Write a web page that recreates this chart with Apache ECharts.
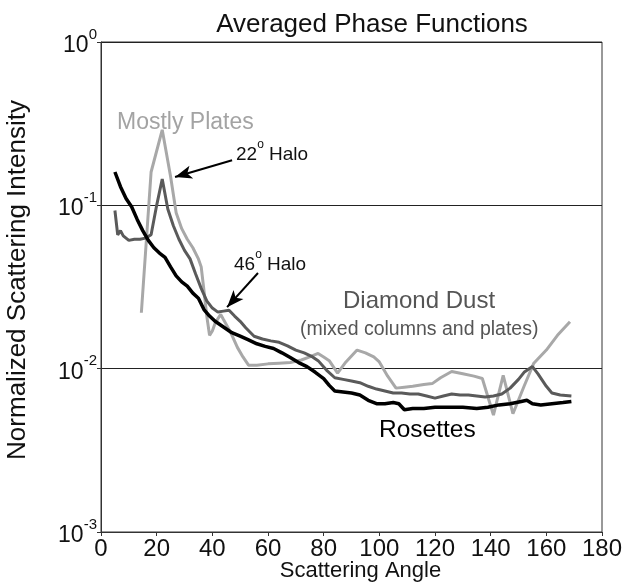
<!DOCTYPE html>
<html>
<head>
<meta charset="utf-8">
<script src="https://cdn.jsdelivr.net/npm/echarts@6/dist/echarts.min.js"></script>
<style>
html,body{margin:0;padding:0;background:#fff;}
#chart{width:622px;height:588px;}
</style>
</head>
<body>
<div id="chart"></div>
<script>
var titleText = 'Averaged Phase Functions';
var xTicks = [0, 20, 40, 60, 80, 100, 120, 140, 160, 180];
var yTicks = [0.001, 0.01, 0.1, 1];

var rosettesAngle = [5,7,9,11,13,15,17,19,21,23,25,27,29,31,33,35,37,39,41,44,47,50,53,56,59,62,65,68,71,74,77,80,82,84,87,90,93,96,99,102,105,107,109,112,116,120,125,130,135,139,143,147,151,153,155,158,162,166,169];
var rosettesValue = [0.16,0.13,0.11,0.098,0.082,0.07,0.061,0.055,0.051,0.048,0.042,0.037,0.034,0.032,0.029,0.027,0.023,0.021,0.0195,0.018,0.0166,0.0158,0.015,0.0142,0.0137,0.0133,0.0125,0.0117,0.0109,0.0103,0.0095,0.0087,0.0079,0.0073,0.0072,0.0071,0.0069,0.0064,0.0061,0.0061,0.0062,0.0061,0.0056,0.0057,0.0057,0.0058,0.0058,0.0058,0.0057,0.0058,0.006,0.0061,0.0063,0.0064,0.0061,0.006,0.0061,0.0062,0.0063];

var diamondAngle = [5,6,7,8,10,12,14,16,18,20,22,24,26,28,30,32,34,36,38,40,42,44,46,48,50,52,55,58,61,64,67,70,73,76,78,81,84,87,90,93,96,99,102,105,108,111,114,117,120,123,126,129,132,135,138,141,144,147,150,152,155,157,160,162,165,169];
var diamondValue = [0.093,0.066,0.07,0.065,0.061,0.062,0.062,0.063,0.066,0.1,0.145,0.095,0.075,0.062,0.053,0.047,0.038,0.031,0.026,0.0235,0.0222,0.0225,0.0228,0.021,0.0195,0.0178,0.0158,0.0152,0.0148,0.0145,0.0138,0.013,0.0125,0.0118,0.0112,0.0098,0.0088,0.0086,0.0084,0.0082,0.0078,0.0075,0.0073,0.0071,0.0071,0.007,0.007,0.0068,0.0066,0.0068,0.007,0.0069,0.0069,0.0068,0.0067,0.0068,0.007,0.0076,0.0086,0.0095,0.0103,0.0093,0.0078,0.0071,0.0069,0.0068];

var platesAngle = [14.5,18,22,25,27,29,31,33,35,36,37,38,39,40,41,43,44,46.5,49,51,53,56,60,64,68,72,75,78,80,82,85,88,92,95,98,100,103,106,109,112,116,119,122,126,130,134,137,141,144.5,148,152,155.5,160,164,168.5];
var platesValue = [0.022,0.16,0.29,0.15,0.09,0.072,0.062,0.055,0.047,0.042,0.03,0.021,0.016,0.017,0.019,0.0215,0.02,0.0168,0.0135,0.0118,0.0105,0.0105,0.0107,0.0108,0.0109,0.0113,0.0118,0.0124,0.0118,0.0112,0.0094,0.011,0.013,0.0125,0.0118,0.011,0.009,0.0076,0.0077,0.0078,0.008,0.0081,0.0088,0.0096,0.0093,0.009,0.0087,0.0052,0.0091,0.0053,0.0078,0.0108,0.013,0.016,0.0194];

var halo22Arrow = [[47.1, 0.189], [26.6, 0.149]];
var halo46Arrow = [[56.4, 0.0385], [45.3, 0.0238]];

function pairs(a, v) { return a.map(function (x, i) { return [x, v[i]]; }); }

var FONT = 'Liberation Sans, Arial, sans-serif';
var chart = echarts.init(document.getElementById('chart'), null, {renderer: 'canvas'});

var option = {
  animation: false,
  backgroundColor: '#fff',
  title: {
    text: titleText,
    left: 367, top: 7, textAlign: 'center',
    textStyle: {fontFamily: FONT, fontSize: 26, fontWeight: 'normal', color: '#111'}
  },
  grid: {left: 101, right: 20, top: 42, bottom: 56, containLabel: false, outerBoundsMode: 'none',
    show: true, borderColor: '#333', borderWidth: 1, backgroundColor: 'transparent'},
  xAxis: {
    type: 'value', min: 0, max: 180, interval: 20,
    name: 'Scattering Angle', nameLocation: 'middle', nameGap: 28, nameMoveOverlap: false,
    nameTextStyle: {fontFamily: FONT, fontSize: 22, color: '#111', padding: [0, 0, 0, 18]},
    axisLine: {show: true, onZero: false, lineStyle: {color: '#333', width: 1}},
    axisTick: {show: true, inside: false, length: 4, lineStyle: {color: '#333'}},
    axisLabel: {fontFamily: FONT, fontSize: 24, color: '#111', margin: 5,
      formatter: function (v) { return xTicks.indexOf(v) >= 0 ? String(v) : ''; }},
    splitLine: {show: false}
  },
  yAxis: {
    type: 'log', logBase: 10, min: 0.001, max: 1,
    name: 'Normalized Scattering Intensity', nameLocation: 'middle', nameGap: 70, nameRotate: 90,
    nameMoveOverlap: false,
    nameTextStyle: {fontFamily: FONT, fontSize: 26, color: '#111', padding: [0, 0, 0, 14]},
    axisLine: {show: true, lineStyle: {color: '#333', width: 1}},
    axisTick: {show: true, inside: false, length: 4, lineStyle: {color: '#333'}},
    axisLabel: {
      margin: 4,
      formatter: function (v) {
        var e = Math.round(Math.log10(v));
        return '{b|10}{s|' + e + '}';
      },
      rich: {
        b: {fontFamily: FONT, fontSize: 23, color: '#111', lineHeight: 30, verticalAlign: 'bottom'},
        s: {fontFamily: FONT, fontSize: 15, color: '#111', lineHeight: 16, verticalAlign: 'top'}
      }
    },
    splitLine: {show: true, lineStyle: {color: '#222', width: 1}}
  },
  series: [
    {
      name: 'Mostly Plates', type: 'line', data: pairs(platesAngle, platesValue),
      showSymbol: false, symbol: 'none', lineStyle: {color: '#a8a8a8', width: 3}, z: 2
    },
    {
      name: 'Diamond Dust', type: 'line', data: pairs(diamondAngle, diamondValue),
      showSymbol: false, symbol: 'none', lineStyle: {color: '#5a5a5a', width: 3}, z: 3
    },
    {
      name: 'Rosettes', type: 'line', data: pairs(rosettesAngle, rosettesValue),
      showSymbol: false, symbol: 'none', lineStyle: {color: '#000', width: 3.5}, z: 4,
      markLine: {
        silent: true, animation: false,
        symbol: ['none', 'arrow'], symbolSize: [10, 17],
        label: {show: false},
        lineStyle: {color: '#000', width: 2, type: 'solid'},
        data: [
          [{coord: halo22Arrow[0]}, {coord: halo22Arrow[1]}],
          [{coord: halo46Arrow[0]}, {coord: halo46Arrow[1]}]
        ]
      }
    }
  ],
  graphic: [
    {type: 'text', left: 117, top: 111, style: {text: 'Mostly Plates', fontFamily: FONT, fontSize: 23, fill: '#a3a3a3'}},
    {type: 'text', left: 236, top: 139, style: {
      text: '{b|22}{s|o}{b| Halo}', fontFamily: FONT,
      rich: {b: {fontFamily: FONT, fontSize: 19, fill: '#111', lineHeight: 25, verticalAlign: 'bottom'},
             s: {fontFamily: FONT, fontSize: 12, fill: '#111', lineHeight: 13, verticalAlign: 'top'}}}},
    {type: 'text', left: 234, top: 249, style: {
      text: '{b|46}{s|o}{b| Halo}', fontFamily: FONT,
      rich: {b: {fontFamily: FONT, fontSize: 19, fill: '#111', lineHeight: 25, verticalAlign: 'bottom'},
             s: {fontFamily: FONT, fontSize: 12, fill: '#111', lineHeight: 13, verticalAlign: 'top'}}}},
    {type: 'text', left: 343, top: 289, style: {text: 'Diamond Dust', fontFamily: FONT, fontSize: 24, fill: '#555'}},
    {type: 'text', left: 300, top: 320, style: {text: '(mixed columns and plates)', fontFamily: FONT, fontSize: 19.5, fill: '#555'}},
    {type: 'text', left: 379, top: 418, style: {text: 'Rosettes', fontFamily: FONT, fontSize: 24.5, fill: '#000'}}
  ]
};
chart.setOption(option);
</script>
</body>
</html>
